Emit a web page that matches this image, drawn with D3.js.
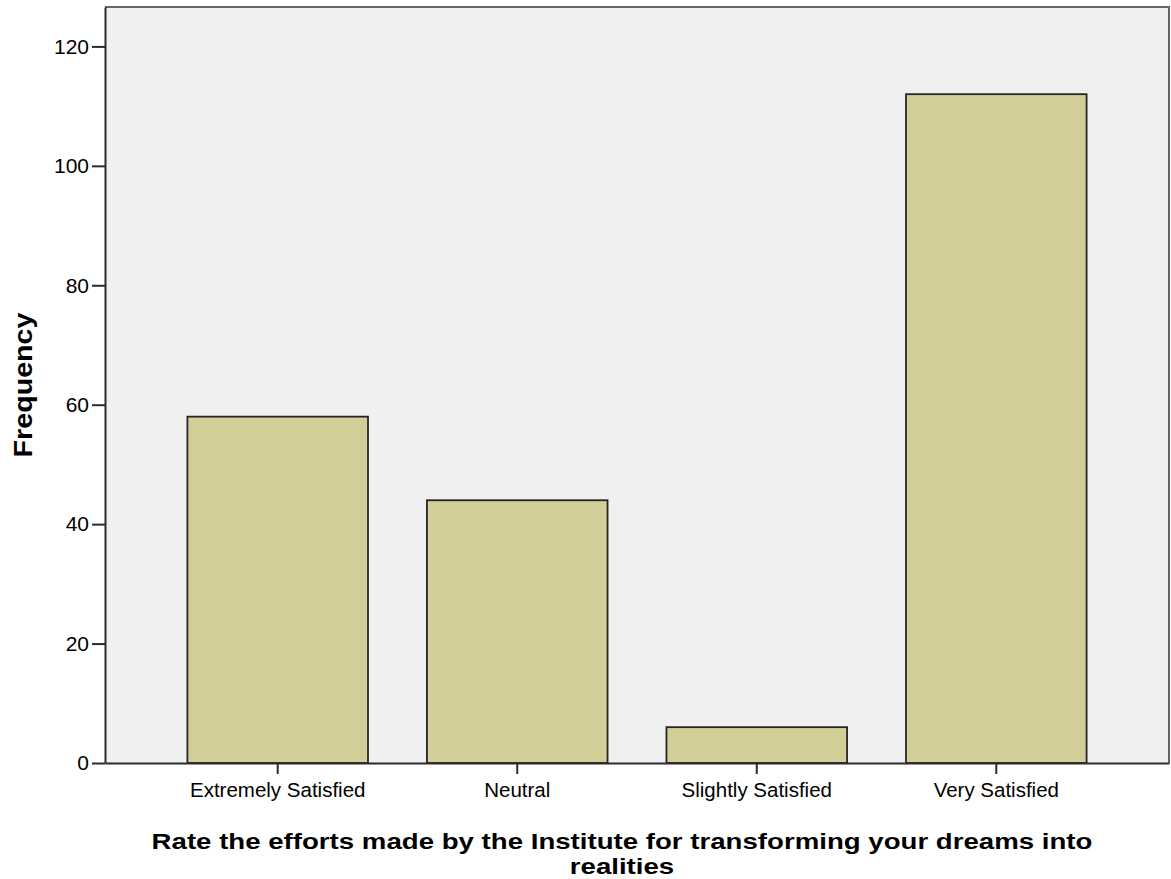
<!DOCTYPE html>
<html>
<head>
<meta charset="utf-8">
<script src="https://cdn.jsdelivr.net/npm/d3@7"></script>
<style>
  html, body { margin: 0; padding: 0; background: #ffffff; }
  svg { display: block; }
  text { font-family: "Liberation Sans", Arial, sans-serif; fill: #000; }
</style>
</head>
<body>
<svg id="chart" width="1171" height="879"></svg>
<script>
const categories = ["Extremely Satisfied", "Neutral", "Slightly Satisfied", "Very Satisfied"];
const frequencies = [58, 44, 6, 112];
const yTicks = [0, 20, 40, 60, 80, 100, 120];
const yLabel = "Frequency";
const xLabelLines = ["Rate the efforts made by the Institute for transforming your dreams into", "realities"];

const svg = d3.select("#chart");
const plot = { left: 105, right: 1169, top: 7, bottom: 763 };
const yMax = 126.6;

const x = d3.scaleBand()
  .domain(categories)
  .range([plot.left, plot.right])
  .paddingInner(0.246)
  .paddingOuter(0.344);

const y = d3.scaleLinear().domain([0, yMax]).range([plot.bottom, plot.top]);

// plot background
svg.append("rect")
  .attr("x", plot.left).attr("y", plot.top)
  .attr("width", plot.right - plot.left).attr("height", plot.bottom - plot.top)
  .attr("fill", "#f0f0f0");

// bars
svg.append("g").selectAll("rect")
  .data(categories.map((c, i) => ({ c, v: frequencies[i] })))
  .join("rect")
  .attr("x", d => x(d.c))
  .attr("y", d => y(d.v))
  .attr("width", x.bandwidth())
  .attr("height", d => y(0) - y(d.v))
  .attr("fill", "#d3ce97")
  .attr("stroke", "#262626")
  .attr("stroke-width", 1.8);

// frame top and right
svg.append("path")
  .attr("d", `M${plot.left},${plot.top}H${plot.right}V${plot.bottom}`)
  .attr("fill", "none")
  .attr("stroke", "#666")
  .attr("stroke-width", 2);

// y axis
const yAxis = d3.axisLeft(y).tickValues(yTicks).tickSize(13).tickSizeOuter(0).tickPadding(3).tickFormat(d3.format("d"));
const gy = svg.append("g").attr("transform", `translate(${plot.left},0)`).call(yAxis);
gy.select(".domain").attr("stroke", "#2b2b2b").attr("stroke-width", 2);
gy.selectAll(".tick line").attr("stroke", "#2b2b2b").attr("stroke-width", 2);
gy.selectAll(".tick text").style("font-size", "21px").style("font-family", "Liberation Sans, Arial, sans-serif").attr("fill", "#000");

// x axis
const xAxis = d3.axisBottom(x).tickSize(11).tickSizeOuter(0).tickPadding(8);
const gx = svg.append("g").attr("transform", `translate(0,${plot.bottom})`).call(xAxis);
gx.select(".domain").attr("stroke", "#2b2b2b").attr("stroke-width", 2);
gx.selectAll(".tick line").attr("stroke", "#2b2b2b").attr("stroke-width", 2);
gx.selectAll(".tick text").style("font-size", "20.5px").style("font-family", "Liberation Sans, Arial, sans-serif").attr("fill", "#000");

// y label (stretched to the reference length)
const yl = svg.append("text")
  .attr("text-anchor", "middle")
  .style("font-size", "25px")
  .style("font-weight", "bold")
  .text(yLabel);
const ylScale = 145 / yl.node().getComputedTextLength();
yl.attr("transform", `translate(32,${(plot.top + plot.bottom) / 2}) rotate(-90) scale(${ylScale},1)`);

// x label, two lines, stretched horizontally to the reference width
const xl = svg.append("g").selectAll("text")
  .data(xLabelLines)
  .join("text")
  .attr("text-anchor", "middle")
  .style("font-size", "22px")
  .style("font-weight", "bold")
  .text(d => d);
const xlScale = 941 / xl.nodes()[0].getComputedTextLength();
xl.attr("transform", (d, i) => `translate(622,${849 + i * 25}) scale(${xlScale},1)`);
</script>
</body>
</html>
